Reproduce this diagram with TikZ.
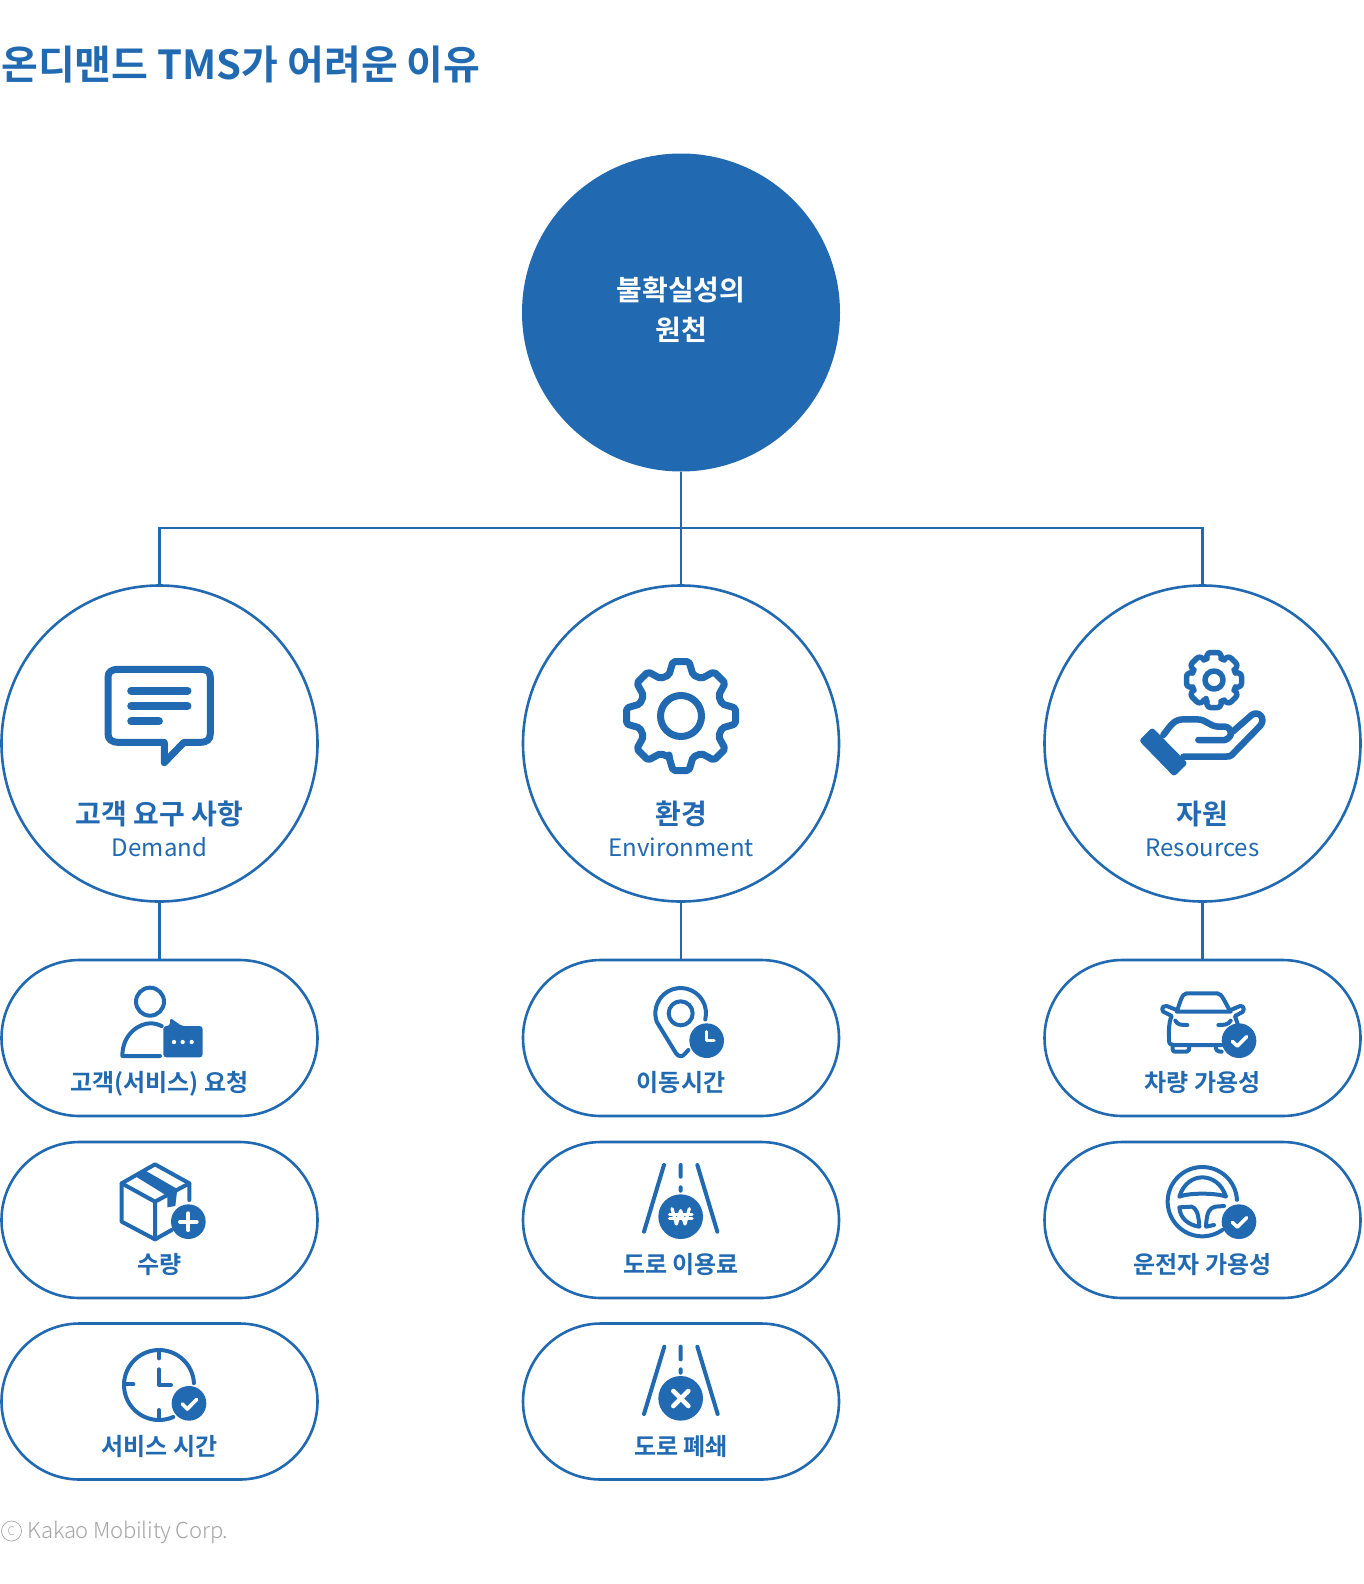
\documentclass[tikz,border=0pt]{standalone}
\usepackage{fontspec}
\setmainfont{Noto Sans CJK KR}[BoldFont={Noto Sans CJK KR Bold}]
\newfontfamily\lightfont{Noto Sans CJK KR Light}[LetterSpace=-1]
\definecolor{mblue}{RGB}{33,106,177}
\definecolor{mgray}{RGB}{165,165,165}

\begin{document}
\begin{tikzpicture}[x=1pt,y=-1pt,line cap=butt,
        big circle/.style={circle, draw=mblue, line width=2.6, fill=white, minimum size=316, inner sep=0pt, outer sep=0pt},
        pill/.style={rectangle, draw=mblue, line width=2.6, fill=white, minimum width=316, minimum height=156, rounded corners=78, inner sep=0pt, outer sep=0pt},
        conn/.style={draw=mblue, line width=2.4},
        ko label/.style={text=mblue, anchor=base, font=\bfseries\fontsize{28}{34}\selectfont, inner sep=0pt},
        en label/.style={text=mblue, anchor=base, font=\fontsize{24}{30}\selectfont, inner sep=0pt},
        pill label/.style={text=mblue, anchor=base, font=\bfseries\fontsize{24}{30}\selectfont, inner sep=0pt},
        icon/.style={draw=mblue, line width=#1, line cap=round, line join=round},
        icon/.default=4,
        badge mark/.style={draw=white, line width=#1, line cap=round, line join=round},
        badge mark/.default=3.6]

            \useasboundingbox (0,0) rectangle (1364,1584);

            % Title

            \node [anchor=west, inner sep=0pt, text=mblue, font=\bfseries\fontsize{40}{44}\selectfont] (title) at (1,64.5) {온디맨드 TMS가 어려운 이유};

            % Source

            \node [circle, draw=mgray, line width=0.7, minimum size=20, inner sep=0pt, text=mgray, font=\lightfont\fontsize{12}{12}\selectfont] (copy) at (11.5,1531) {C};
            \node [anchor=west, inner sep=0pt, text=mgray, font=\lightfont\fontsize{22}{26}\selectfont] (source) at (27.5,1532) {Kakao Mobility Corp.};

            % Root

            \node [circle, fill=mblue, minimum size=318, inner sep=0pt, outer sep=0pt] (root) at (681,312.5) {};
            \node [text=white, align=center, inner sep=0pt, font=\bfseries\fontsize{28}{40}\selectfont] (rootlabel) at (681,309.5) {불확실성의\\원천};

            % Sources of uncertainty

            \foreach \n/\x/\ko/\en in {demand/159.5/고객 요구 사항/Demand,environment/681/환경/Environment,resources/1202.5/자원/Resources} {
                \node [big circle] (\n) at (\x,743.5) {};
                \node [ko label] (\n ko) at (\x,824) {\ko};
                \node [en label] (\n en) at (\x,856) {\en};
            }

            % Items

            \foreach \n/\x/\y/\t in {d0/159.5/1038/고객(서비스) 요청,d1/159.5/1220/수량,d2/159.5/1401.5/서비스 시간,
                                     e0/681/1038/이동시간,e1/681/1220/도로 이용료,e2/681/1401.5/도로 폐쇄,
                                     r0/1202.5/1038/차량 가용성,r1/1202.5/1220/운전자 가용성} {
                \node [pill] (\n) at (\x,\y) {};
                \node [pill label] (\n label) at ([yshift=-53.5pt]\n.center) {\t};
            }

            % Connectors

            \coordinate (bus) at (681,528);
            \draw [conn] (demand.north) |- (bus) -| (resources.north);
            \path [conn]
                  (root) edge (environment)
                  (demand) edge (d0)
                  (environment) edge (e0)
                  (resources) edge (r0)
                ;

            % Chat

            \begin{scope}[shift={(0,580)},xscale=1/2.24,yscale=1/3]
                \draw [icon=7] (266,268) -- (448,268) .. controls (464,268) and (471,275) .. (471,291) -- (471,462) .. controls (471,478) and (464,487) .. (448,487) -- (412,487) -- (368,548) -- (368,487) -- (266,487) .. controls (250,487) and (242,478) .. (242,462) -- (242,291) .. controls (242,275) and (250,268) .. (266,268) -- cycle;
                \foreach \y/\e in {332/420,378/420,424/356} {
                    \draw [icon=8] (294,\y) -- (\e,\y);
                }
            \end{scope}

            % Gear

            \begin{scope}[shift={(681,716)}]
                \draw [icon=7] (0,0) circle (20.5);
                \draw [icon=7, rounded corners=2pt] ([rotate=-90]41,12)
                    \foreach \a in {-90,-45,...,225} { -- ([rotate=\a]41,12) -- ([rotate=\a]54.5,8) -- ([rotate=\a]54.5,-8) -- ([rotate=\a]41,-12) } -- cycle;
            \end{scope}

            % Hand with gear

            \begin{scope}[shift={(1214,680)}]
                \draw [icon=5.5] (0,0) circle (9);
                \draw [icon=5.5, rounded corners=2.5pt] ([rotate=-90]21,8)
                    \foreach \a in {-90,-45,...,225} { -- ([rotate=\a]21,8) -- ([rotate=\a]27.5,6) -- ([rotate=\a]27.5,-6) -- ([rotate=\a]21,-8) } -- cycle;
            \end{scope}
            \begin{scope}[shift={(1030,620)},scale=1/3]
                \fill [mblue, rounded corners=3pt] (327,362) -- (367,322) -- (473,430) -- (432,470) -- cycle;
                \draw [icon=6.5] (400,345) .. controls (420,320) and (430,298) .. (460,298) -- (500,298) .. controls (530,298) and (535,318) .. (565,320) -- (585,320) .. controls (605,322) and (612,350) .. (585,360) -- (505,360);
                \draw [icon=6.5] (608,335) -- (665,285) .. controls (685,270) and (710,295) .. (690,318) -- (610,400) .. controls (602,410) and (595,410) .. (585,410) -- (460,410);
            \end{scope}

            % Person with message

            \begin{scope}[shift={(60,970)},scale=1/3]
                \draw [icon] (270,95) circle (42);
                \draw [icon] (300,258) -- (187,258) .. controls (187,190) and (240,160) .. (270,160) .. controls (285,160) and (295,163) .. (305,168);
                \fill [mblue, rounded corners=3pt] (310,168) -- (330,168) -- (330,143) -- (365,168) -- (428,168) -- (428,262) -- (310,262) -- cycle;
                \foreach \x in {342,368,395} {
                    \fill [white] (\x,216) circle (6.5);
                }
            \end{scope}

            % Box

            \begin{scope}[shift={(60,970)},scale=1/3]
                \draw [icon] (388,690) -- (388,640) -- (285,583) -- (185,640) -- (185,755) -- (285,808) -- (335,780);
                \draw [icon] (185,640) -- (285,695) -- (388,640) (285,695) -- (285,808);
                \fill [mblue] (228,620) -- (258,603) -- (352,657) -- (346,708) -- (322,712) -- (322,678) -- cycle;
                \fill [mblue] (385,755) circle (52);
                \draw [badge mark=4] (385,730) -- (385,780) (360,755) -- (410,755);
            \end{scope}

            % Clock with check

            \begin{scope}[shift={(90,1330)},scale=1/3]
                \draw [icon] (207,165) ++(-3:105) arc (-3:-294:105);
                \draw [icon] (207,62) -- (207,85) (105,163) -- (130,163) (207,240) -- (207,265);
                \draw [icon] (207,118) -- (207,165) -- (243,165);
                \fill [mblue] (297,220) circle (52);
                \draw [badge mark] (277,222) -- (292,237) -- (320,208);
            \end{scope}

            % Pin with clock

            \begin{scope}[shift={(590,970)},scale=1/3]
                \draw [icon] (272,130) circle (36);
                \draw [icon] (272,130) ++(14:76) arc (14:-200:76) -- (258,250) .. controls (268,262) and (276,262) .. (286,250) -- (295,240);
                \fill [mblue] (350,212) circle (52);
                \draw [badge mark=3] (350,185) -- (350,212) -- (372,212);
            \end{scope}

            % Road with toll

            \begin{scope}[shift={(590,970)},scale=1/3]
                \draw [icon] (222,585) -- (162,785) (322,585) -- (382,785) (272,585) -- (272,620) (272,652) -- (272,662);
                \fill [mblue] (272,740) circle (67);
                \draw [badge mark=3.2] (246,716) -- (259,762) -- (272,722) -- (285,762) -- (298,716);
                \draw [badge mark=3.2] (238,733) -- (306,733) (238,746) -- (306,746);
            \end{scope}

            % Road closed

            \begin{scope}[shift={(610,1330)},scale=1/3]
                \draw [icon] (163,50) -- (102,252) (262,50) -- (323,252) (212,50) -- (212,88) (212,118) -- (212,128);
                \fill [mblue] (212,205) circle (67);
                \draw [badge mark=4.6] (190,183) -- (235,228) (235,183) -- (190,228);
            \end{scope}

            % Car

            \begin{scope}[shift={(1120,970)},scale=1/3]
                \draw [icon] (170,125) .. controls (180,100) and (185,70) .. (200,70) -- (292,70) .. controls (307,70) and (315,100) .. (332,125) -- cycle;
                \draw [icon] (170,120) -- (140,108) .. controls (122,105) and (122,128) .. (140,130) -- (155,138) .. controls (145,160) and (147,180) .. (147,210) .. controls (147,222) and (152,225) .. (160,225) -- (305,225);
                \draw [icon] (332,120) -- (360,108) .. controls (375,105) and (375,128) .. (360,130) -- (345,138) -- (353,162);
                \draw [icon] (158,225) -- (158,238) .. controls (158,244) and (162,245) .. (166,245) -- (200,245) .. controls (206,245) and (208,240) .. (208,225);
                \draw [icon] (287,225) .. controls (287,240) and (290,245) .. (305,245);
                \draw [icon] (166,152) .. controls (172,165) and (185,165) .. (202,165) (295,165) .. controls (310,165) and (325,165) .. (332,152);
                \fill [mblue] (357,212) circle (52);
                \draw [badge mark] (337,214) -- (352,228) -- (380,200);
            \end{scope}

            % Steering wheel

            \begin{scope}[shift={(1120,970)},scale=1/3]
                \draw [icon] (247,695) ++(-3:104) arc (-3:-305:104);
                \draw [icon] (178,680) .. controls (190,640) and (220,622) .. (247,622) .. controls (275,622) and (305,640) .. (318,680) .. controls (290,668) and (205,668) .. (178,680) -- cycle;
                \draw [icon] (178,712) -- (215,710) .. controls (228,715) and (235,725) .. (238,770) .. controls (205,765) and (180,745) .. (178,712) -- cycle;
                \draw [icon] (312,708) -- (285,710) .. controls (268,715) and (260,725) .. (258,770) -- (282,765);
                \fill [mblue] (357,755) circle (52);
                \draw [badge mark] (337,757) -- (352,771) -- (380,743);
            \end{scope}

        \end{tikzpicture}
\end{document}
